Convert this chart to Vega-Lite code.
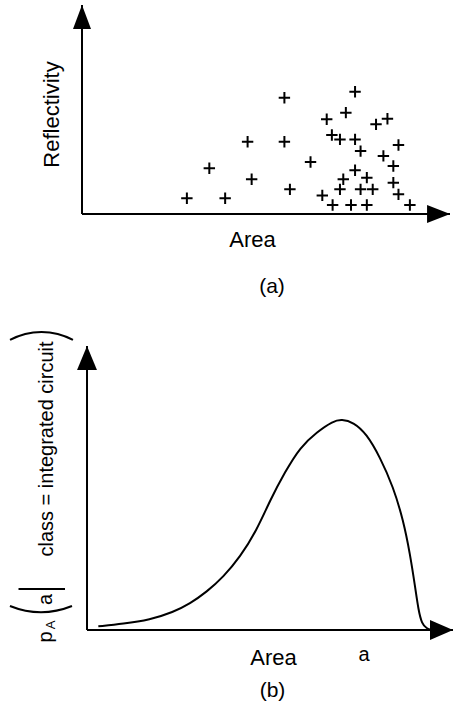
{
  "$schema": "https://vega.github.io/schema/vega-lite/v6.json",
  "background": "white",
  "padding": {"left": 9, "top": 4, "right": 0, "bottom": 0},
  "spacing": 34,
  "config": {
    "view": {"stroke": null},
    "axis": {"grid": false, "domain": false, "ticks": false, "labels": false, "titleColor": "black", "titleFont": "Liberation Sans", "titleFontWeight": "normal", "labelColor": "black", "labelFont": "Liberation Sans"},
    "title": {"color": "black", "font": "Liberation Sans", "fontWeight": "normal", "fontSize": 21}
  },
  "datasets": {
    "scatter": [
      {"area": 28.5, "reflectivity": 7.5}, {"area": 38.9, "reflectivity": 7.5}, {"area": 34.6, "reflectivity": 21.9},
      {"area": 45.0, "reflectivity": 34.6}, {"area": 46.1, "reflectivity": 16.6}, {"area": 55.0, "reflectivity": 55.6},
      {"area": 55.0, "reflectivity": 34.6}, {"area": 56.5, "reflectivity": 11.8}, {"area": 62.1, "reflectivity": 24.9},
      {"area": 65.3, "reflectivity": 8.9}, {"area": 66.5, "reflectivity": 45.3}, {"area": 67.9, "reflectivity": 37.8},
      {"area": 68.1, "reflectivity": 4.3}, {"area": 70.1, "reflectivity": 35.7}, {"area": 70.1, "reflectivity": 11.8},
      {"area": 71.0, "reflectivity": 16.6}, {"area": 71.7, "reflectivity": 48.5}, {"area": 73.1, "reflectivity": 4.3},
      {"area": 74.2, "reflectivity": 58.5}, {"area": 74.2, "reflectivity": 35.7}, {"area": 74.2, "reflectivity": 20.9},
      {"area": 75.7, "reflectivity": 30.1}, {"area": 75.7, "reflectivity": 11.8}, {"area": 77.4, "reflectivity": 17.4},
      {"area": 77.4, "reflectivity": 4.3}, {"area": 79.0, "reflectivity": 11.8}, {"area": 79.9, "reflectivity": 42.9},
      {"area": 81.9, "reflectivity": 27.8}, {"area": 83.0, "reflectivity": 45.6}, {"area": 84.6, "reflectivity": 23.0},
      {"area": 84.6, "reflectivity": 15.0}, {"area": 86.0, "reflectivity": 33.0}, {"area": 86.0, "reflectivity": 9.4},
      {"area": 89.1, "reflectivity": 4.3}
    ],
    "density": [
      {"area": 4.4, "p": 1.3}, {"area": 11.1, "p": 2.2}, {"area": 18.3, "p": 3.6}, {"area": 24.6, "p": 6.3},
      {"area": 29.1, "p": 9.3}, {"area": 33.6, "p": 13.4}, {"area": 38.1, "p": 18.7}, {"area": 42.6, "p": 25.7},
      {"area": 47.1, "p": 35.1}, {"area": 50.7, "p": 45.7}, {"area": 54.7, "p": 55.6}, {"area": 58.8, "p": 64.4},
      {"area": 63.3, "p": 69.7}, {"area": 67.7, "p": 73.6}, {"area": 70.0, "p": 74.2}, {"area": 73.1, "p": 73.2},
      {"area": 76.7, "p": 69.1}, {"area": 80.3, "p": 60.9}, {"area": 83.9, "p": 50.4}, {"area": 86.6, "p": 38.6},
      {"area": 88.4, "p": 26.9}, {"area": 89.8, "p": 15.1}, {"area": 90.7, "p": 6.9}, {"area": 91.6, "p": 2.2},
      {"area": 92.9, "p": 0.5}, {"area": 94.3, "p": 0.0}
    ]
  },
  "vconcat": [
    {
      "width": 368,
      "height": 209,
      "title": {"text": "(a)", "orient": "bottom", "anchor": "middle", "offset": 26, "dx": 6},
      "layer": [
        {
          "data": {"name": "scatter"},
          "mark": {"type": "point", "shape": "M-1,0L1,0M0,-1L0,1", "size": 130, "filled": false, "stroke": "black", "strokeWidth": 2, "opacity": 1},
          "encoding": {
            "x": {"field": "area", "type": "quantitative", "scale": {"domain": [0, 100], "nice": false, "zero": false},
                  "axis": {"title": "Area", "titleFontSize": 22, "titleX": 170, "titleY": 32, "titleBaseline": "alphabetic"}},
            "y": {"field": "reflectivity", "type": "quantitative", "scale": {"domain": [0, 100], "nice": false, "zero": false},
                  "axis": {"title": "Reflectivity", "titleFontSize": 22, "titlePadding": 24, "titleY": 109, "titleBaseline": "alphabetic"}}
          }
        },
        {"data": {"values": [{}]}, "mark": {"type": "rule", "stroke": "black", "strokeWidth": 2}, "encoding": {"x": {"datum": 0}, "x2": {"datum": 100}, "y": {"datum": 0}}},
        {"data": {"values": [{}]}, "mark": {"type": "rule", "stroke": "black", "strokeWidth": 2}, "encoding": {"x": {"datum": 0}, "y": {"datum": 0}, "y2": {"datum": 100}}},
        {"data": {"values": [{}]}, "mark": {"type": "point", "shape": "M-1,-0.78L1,0L-1,0.78Z", "size": 529, "filled": true, "color": "black", "opacity": 1}, "encoding": {"x": {"datum": 96.9}, "y": {"datum": 0}}},
        {"data": {"values": [{}]}, "mark": {"type": "point", "shape": "M-0.75,1L0,-1L0.75,1Z", "size": 576, "filled": true, "color": "black", "opacity": 1}, "encoding": {"x": {"datum": 0}, "y": {"datum": 94.3}}}
      ]
    },
    {
      "width": 371,
      "height": 284,
      "title": {"text": "(b)", "orient": "bottom", "anchor": "middle", "offset": 12, "dx": 5},
      "layer": [
        {
          "data": {"name": "density"},
          "mark": {"type": "line", "interpolate": "basis", "stroke": "black", "strokeWidth": 2},
          "encoding": {
            "x": {"field": "area", "type": "quantitative", "scale": {"domain": [0, 100], "nice": false, "zero": false},
                  "axis": {"title": "Area", "titleFontSize": 22, "titleX": 191, "titleY": 34, "titleBaseline": "alphabetic",
                           "labels": true, "values": [75.9], "labelExpr": "'a'", "labelFontSize": 20, "labelPadding": 30, "labelBaseline": "alphabetic", "labelFlush": false}},
            "y": {"field": "p", "type": "quantitative", "scale": {"domain": [0, 100], "nice": false, "zero": false},
                  "axis": {"title": "class = integrated circuit", "titleFontSize": 20, "titlePadding": 30, "titleY": 102.5, "titleBaseline": "alphabetic"}}
          }
        },
        {"data": {"values": [{}]}, "mark": {"type": "rule", "stroke": "black", "strokeWidth": 2}, "encoding": {"x": {"datum": 1.35}, "x2": {"datum": 100}, "y": {"datum": 0}}},
        {"data": {"values": [{}]}, "mark": {"type": "rule", "stroke": "black", "strokeWidth": 2}, "encoding": {"x": {"datum": 1.35}, "y": {"datum": 0}, "y2": {"datum": 100}}},
        {"data": {"values": [{}]}, "mark": {"type": "point", "shape": "M-1,-0.87L1,0L-1,0.87Z", "size": 529, "filled": true, "color": "black", "opacity": 1}, "encoding": {"x": {"datum": 96.9}, "y": {"datum": 0}}},
        {"data": {"values": [{}]}, "mark": {"type": "point", "shape": "M-0.83,1L0,-1L0.83,1Z", "size": 576, "filled": true, "color": "black", "opacity": 1}, "encoding": {"x": {"datum": 1.35}, "y": {"datum": 95.8}}},
        {"data": {"values": [{}]}, "mark": {"type": "text", "text": "p", "angle": 270, "align": "center", "baseline": "alphabetic", "font": "Liberation Sans", "fontSize": 20, "color": "black"}, "encoding": {"x": {"datum": -8.09}, "y": {"datum": -2.46}}},
        {"data": {"values": [{}]}, "mark": {"type": "text", "text": "A", "angle": 270, "align": "center", "baseline": "alphabetic", "font": "Liberation Sans", "fontSize": 13, "color": "black"}, "encoding": {"x": {"datum": -7.28}, "y": {"datum": 1.76}}},
        {"data": {"values": [{}]}, "mark": {"type": "text", "text": "a", "angle": 270, "align": "center", "baseline": "alphabetic", "font": "Liberation Sans", "fontSize": 20, "color": "black"}, "encoding": {"x": {"datum": -8.09}, "y": {"datum": 10.74}}},
        {"data": {"values": [{}]}, "mark": {"type": "text", "text": "|", "angle": 270, "align": "center", "baseline": "alphabetic", "font": "Lato", "fontWeight": 300, "fontSize": 50, "color": "black"}, "encoding": {"x": {"datum": -7.1}, "y": {"datum": 14.44}}},
        {"data": {"values": [{}]}, "mark": {"type": "arc", "radius": 84, "radius2": 82, "theta": 2.759, "theta2": 3.525, "color": "black", "opacity": 1}, "encoding": {"x": {"datum": -11.05}, "y": {"datum": 35.56}}},
        {"data": {"values": [{}]}, "mark": {"type": "arc", "radius": 67, "radius2": 65, "theta": -0.497, "theta2": 0.497, "color": "black", "opacity": 1}, "encoding": {"x": {"datum": -10.92}, "y": {"datum": 81.69}}}
      ]
    }
  ]
}
